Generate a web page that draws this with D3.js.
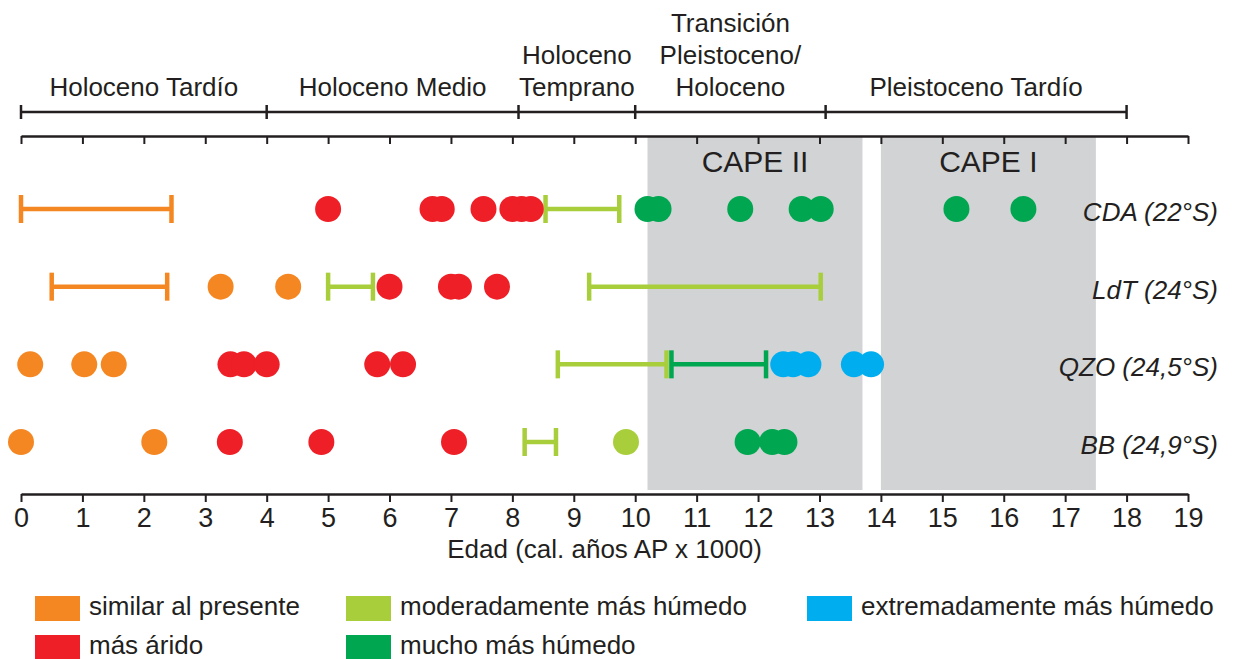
<!DOCTYPE html>
<html>
<head>
<meta charset="utf-8">
<script src="https://cdn.jsdelivr.net/npm/d3@7"></script>
<style>
  html, body { margin: 0; padding: 0; background: #fff; }
  svg { display: block; font-family: "Liberation Sans", Arial, Helvetica, sans-serif; }
</style>
</head>
<body>
<svg id="chart" width="1234" height="659"></svg>
<script>
// ---------------- DATA ----------------
const siteKeys   = ["CDA", "LdT", "QZO", "BB"];
const siteLabels = ["CDA (22°S)", "LdT (24°S)", "QZO (24,5°S)", "BB (24,9°S)"];

const categoryKeys   = ["similar", "arido", "moderado", "mucho", "extremo"];
const categoryLabels = ["similar al presente", "más árido", "moderadamente más húmedo", "mucho más húmedo", "extremadamente más húmedo"];

// age ranges: [site, category, from, to] (ka cal AP)
const spans = [
  ["CDA", "similar", 0.0, 2.45],
  ["CDA", "moderado", 8.54, 9.74],
  ["LdT", "similar", 0.5, 2.38],
  ["LdT", "moderado", 5.0, 5.73],
  ["LdT", "moderado", 9.25, 13.02],
  ["QZO", "moderado", 8.74, 10.51],
  ["QZO", "mucho", 10.59, 12.13],
  ["BB", "moderado", 8.2, 8.71]
];

// single dates: [site, category, age]
const dots = [
  ["CDA", "arido", 5.0], ["CDA", "arido", 6.7], ["CDA", "arido", 6.85], ["CDA", "arido", 7.53],
  ["CDA", "arido", 8.0], ["CDA", "arido", 8.15], ["CDA", "arido", 8.3],
  ["CDA", "mucho", 10.2], ["CDA", "mucho", 10.38], ["CDA", "mucho", 11.71], ["CDA", "mucho", 12.71],
  ["CDA", "mucho", 13.02], ["CDA", "mucho", 15.23], ["CDA", "mucho", 16.32],
  ["LdT", "similar", 3.25], ["LdT", "similar", 4.35],
  ["LdT", "arido", 6.0], ["LdT", "arido", 7.0], ["LdT", "arido", 7.13], ["LdT", "arido", 7.75],
  ["QZO", "similar", 0.15], ["QZO", "similar", 1.03], ["QZO", "similar", 1.51],
  ["QZO", "arido", 3.41], ["QZO", "arido", 3.63], ["QZO", "arido", 4.0], ["QZO", "arido", 5.8], ["QZO", "arido", 6.22],
  ["QZO", "extremo", 12.41], ["QZO", "extremo", 12.57], ["QZO", "extremo", 12.82],
  ["QZO", "extremo", 13.56], ["QZO", "extremo", 13.84],
  ["BB", "similar", 0.0], ["BB", "similar", 2.17],
  ["BB", "arido", 3.40], ["BB", "arido", 4.89], ["BB", "arido", 7.05],
  ["BB", "moderado", 9.85],
  ["BB", "mucho", 11.83], ["BB", "mucho", 12.23], ["BB", "mucho", 12.43]
];

// chronological periods
const periodBounds = [0, 4, 8.1, 10, 13.1, 18];
const periodLabels = [["Holoceno Tardío"], ["Holoceno Medio"], ["Holoceno", "Temprano"],
                      ["Transición", "Pleistoceno/", "Holoceno"], ["Pleistoceno Tardío"]];

// CAPE intervals: [label, from, to]
const capes = [["CAPE II", 10.2, 13.7], ["CAPE I", 14.0, 17.5]];

const tickValues = d3.range(0, 20);
const axisTitle = "Edad (cal. años AP x 1000)";

// ---------------- STYLE ----------------
const colors = {
  similar: "#f58723",
  arido: "#ee1f26",
  moderado: "#a8cf3b",
  mucho: "#00a650",
  extremo: "#00aeef"
};
const ink = "#231f20";
const grey = "#d1d3d4";

// ---------------- DRAW ----------------
const svg = d3.select("#chart");
const x = d3.scaleLinear().domain([0, 19]).range([21, 1188]);
const y = d3.scalePoint().domain(siteKeys).range([209, 442]);

const topAxisY = 136, bottomAxisY = 494, periodY = 112;

// CAPE boxes
const capeG = svg.append("g");
capeG.selectAll("rect").data(capes).join("rect")
  .attr("x", d => x(d[1])).attr("width", d => x(d[2]) - x(d[1]))
  .attr("y", topAxisY).attr("height", 490 - topAxisY)
  .attr("fill", grey);
capeG.selectAll("text").data(capes).join("text")
  .attr("x", d => (x(d[1]) + x(d[2])) / 2).attr("y", 172)
  .attr("text-anchor", "middle").attr("font-size", 30).attr("fill", ink)
  .text(d => d[0]);

// top axis (ticks down, no labels)
const topAxis = svg.append("g").attr("transform", `translate(0,${topAxisY})`)
  .call(d3.axisBottom(x).tickValues(tickValues).tickSize(8).tickFormat("").tickSizeOuter(0));
topAxis.select(".domain").attr("stroke", ink).attr("stroke-width", 2.5);
topAxis.selectAll(".tick line").attr("stroke", ink).attr("stroke-width", 2);

// bottom axis
const botAxis = svg.append("g").attr("transform", `translate(0,${bottomAxisY})`)
  .call(d3.axisBottom(x).tickValues(tickValues).tickSize(8).tickPadding(6).tickSizeOuter(0).tickFormat(d3.format("d")));
botAxis.select(".domain").attr("stroke", ink).attr("stroke-width", 2.5);
botAxis.selectAll(".tick line").attr("stroke", ink).attr("stroke-width", 2);
botAxis.selectAll(".tick text").attr("font-size", 27).attr("fill", ink)
  .attr("font-family", '"Liberation Sans", Arial, sans-serif');

svg.append("text").attr("x", (x(0) + x(19)) / 2).attr("y", 558)
  .attr("text-anchor", "middle").attr("font-size", 26).attr("fill", ink).text(axisTitle);

// period bar
const pg = svg.append("g");
pg.append("line").attr("x1", x(periodBounds[0])).attr("x2", x(periodBounds[periodBounds.length - 1]))
  .attr("y1", periodY).attr("y2", periodY).attr("stroke", ink).attr("stroke-width", 2.5);
pg.selectAll("line.cap").data(periodBounds).join("line").attr("class", "cap")
  .attr("x1", d => x(d)).attr("x2", d => x(d))
  .attr("y1", periodY - 7).attr("y2", periodY + 7).attr("stroke", ink).attr("stroke-width", 2.5);
periodLabels.forEach((lines, i) => {
  const cx = (x(periodBounds[i]) + x(periodBounds[i + 1])) / 2;
  const t = pg.append("text").attr("text-anchor", "middle").attr("font-size", 26).attr("fill", ink);
  lines.forEach((ln, j) => {
    t.append("tspan").attr("x", cx).attr("y", 96 - (lines.length - 1 - j) * 32).text(ln);
  });
});

// spans (error-bar style)
const capH = 14;
const sg = svg.append("g");
spans.forEach(s => {
  const [site, cat, a, b] = s;
  const yy = y(site), c = colors[cat];
  sg.append("line").attr("x1", x(a)).attr("x2", x(b)).attr("y1", yy).attr("y2", yy)
    .attr("stroke", c).attr("stroke-width", 4.5);
  [a, b].forEach(v => sg.append("line").attr("x1", x(v)).attr("x2", x(v))
    .attr("y1", yy - capH).attr("y2", yy + capH).attr("stroke", c).attr("stroke-width", 4.5));
});

// dots
svg.append("g").selectAll("circle").data(dots).join("circle")
  .attr("cx", d => x(d[2])).attr("cy", d => y(d[0])).attr("r", 13)
  .attr("fill", d => colors[d[1]]);

// site labels
svg.append("g").selectAll("text").data(siteKeys).join("text")
  .attr("x", 1218).attr("y", d => y(d) + 5)
  .attr("text-anchor", "end").attr("font-size", 26).attr("font-style", "italic").attr("fill", ink)
  .attr("dominant-baseline", "middle")
  .text((d, i) => siteLabels[i]);

// legend
const legendCols = [35, 346, 807];
const legendRows = [608, 647];
const legendPos = [[0, 0], [0, 1], [1, 0], [1, 1], [2, 0]];
const lg = svg.append("g");
categoryKeys.forEach((k, i) => {
  const [ci, ri] = legendPos[i];
  const lx = legendCols[ci], ly = legendRows[ri];
  lg.append("rect").attr("x", lx).attr("y", ly - 12).attr("width", 45).attr("height", 25).attr("fill", colors[k]);
  lg.append("text").attr("x", lx + 54).attr("y", ly).attr("dominant-baseline", "middle")
    .attr("font-size", 26).attr("fill", ink).text(categoryLabels[i]);
});
</script>
</body>
</html>
